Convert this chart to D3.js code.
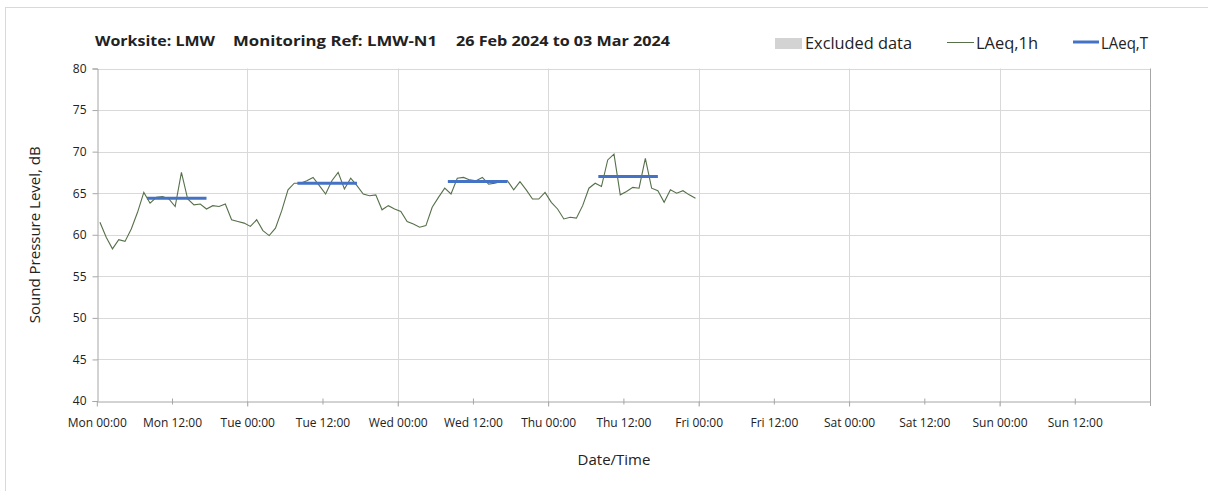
<!DOCTYPE html>
<html>
<head>
<meta charset="utf-8">
<script src="https://cdn.jsdelivr.net/npm/d3@7"></script>
<style>
  body { margin: 0; background: #fff; }
  text { font-family: "Open Sans", "Noto Sans", sans-serif; fill: #222; }
</style>
</head>
<body>
<div id="chart"></div>
<script>
const w = 1208,
h = 491,
m = {top: 68.5, right: 58, bottom: 90, left: 96.8};

// hourly LAeq,1h (dB), one value per hour from Mon 26 Feb 00:00, plotted at mid-hour
const laeq1h = [
  61.5, 59.7, 58.3, 59.4, 59.2, 60.7, 62.7, 65.1, 63.8, 64.5, 64.6, 64.3,
  63.4, 67.5, 64.3, 63.6, 63.7, 63.1, 63.5, 63.4, 63.7, 61.8, 61.6, 61.4,
  61.0, 61.8, 60.5, 59.9, 60.8, 62.9, 65.4, 66.2, 66.2, 66.5, 66.9, 65.9,
  64.9, 66.5, 67.5, 65.5, 66.8, 65.9, 64.9, 64.7, 64.8, 63.0, 63.5, 63.1,
  62.8, 61.6, 61.3, 60.9, 61.1, 63.3, 64.5, 65.6, 64.9, 66.8, 66.9, 66.6,
  66.5, 66.9, 66.1, 66.2, 66.4, 66.5, 65.4, 66.4, 65.4, 64.3, 64.3, 65.1,
  63.9, 63.1, 61.9, 62.1, 62.0, 63.5, 65.6, 66.2, 65.8, 69.0, 69.7, 64.8,
  65.2, 65.7, 65.6, 69.2, 65.6, 65.3, 63.9, 65.4, 65.0, 65.3, 64.8, 64.4
];

// LAeq,T daytime periods
const periodStart = ["2024-02-26T08:00", "2024-02-27T08:00", "2024-02-28T08:00", "2024-02-29T08:00"];
const periodEnd   = ["2024-02-26T17:30", "2024-02-27T17:30", "2024-02-28T17:30", "2024-02-29T17:30"];
const laeqT = [64.4, 66.2, 66.4, 67.0];

const yTicks = [40, 45, 50, 55, 60, 65, 70, 75, 80];

const t0 = new Date("2024-02-26T00:00");
const t1 = new Date("2024-03-04T00:00");

const svg = d3.select("#chart")
    .append("svg")
    .attr("width", w)
    .attr("height", h);

// outer frame
svg.append("rect")
    .attr("x", 5.5).attr("y", 7.5)
    .attr("width", w).attr("height", h)
    .attr("fill", "none")
    .attr("stroke", "#d9d9d9");

let x = d3.scaleTime([t0, t1], [m.left, w - m.right]);
let y = d3.scaleLinear([40, 80], [h - m.bottom, m.top]);

const days = d3.timeDay.range(t0, d3.timeDay.offset(t1, 1));

// gridlines
svg.append("g")
    .selectAll("line")
    .data(yTicks.slice(1))
    .join("line")
    .attr("x1", m.left).attr("x2", w - m.right)
    .attr("y1", d => Math.round(y(d)) + 0.5).attr("y2", d => Math.round(y(d)) + 0.5)
    .attr("stroke", "#d9d9d9");

svg.append("g")
    .selectAll("line")
    .data(days.slice(1))
    .join("line")
    .attr("x1", d => Math.round(x(d)) + 0.5).attr("x2", d => Math.round(x(d)) + 0.5)
    .attr("y1", m.top).attr("y2", h - m.bottom + 5)
    .attr("stroke", d => +d == +t1 ? "#a6a6a6" : "#d9d9d9");

// y axis
const yAxis = svg.append("g")
    .attr("transform", `translate(${Math.round(m.left) + 0.5},0)`)
    .call(d3.axisLeft(y).tickValues(yTicks).tickSize(5).tickPadding(6).tickFormat(d3.format("d")));
yAxis.select(".domain").attr("stroke", "#a6a6a6");
yAxis.selectAll(".tick line").attr("stroke", "#a6a6a6");
yAxis.selectAll("text").style("font-size", "12px").attr("fill", "#333");

// x axis
const xAxis = svg.append("g")
    .attr("transform", `translate(0,${Math.round(h - m.bottom) + 0.5})`)
    .call(d3.axisBottom(x).tickValues(d3.timeHour.every(12).range(t0, t1))
        .tickSize(5).tickSizeOuter(0).tickPadding(12)
        .tickFormat(d3.timeFormat("%a %H:%M")));
xAxis.select(".domain").attr("stroke", "#a6a6a6");
xAxis.selectAll(".tick line").attr("stroke", "#a6a6a6")
    .attr("y1", d => d.getHours() == 12 ? -3 : 0)
    .attr("y2", d => d.getHours() == 12 ? 3 : 5);
xAxis.selectAll("text").style("font-size", "12px").attr("fill", "#333");

// LAeq,1h line
const line = d3.line()
    .x((d, i) => x(d3.timeMinute.offset(t0, i * 60 + 30)))
    .y(d => y(d));

svg.append("path")
    .datum(laeq1h)
    .attr("fill", "none")
    .attr("stroke", "#56704a")
    .attr("stroke-width", 1.1)
    .attr("d", line);

// LAeq,T segments
svg.append("g")
    .selectAll("line")
    .data(laeqT)
    .join("line")
    .attr("x1", (d, i) => x(new Date(periodStart[i])))
    .attr("x2", (d, i) => x(new Date(periodEnd[i])))
    .attr("y1", d => y(d)).attr("y2", d => y(d))
    .attr("stroke", "#4472c4")
    .attr("stroke-width", 3);

// title
const title = svg.append("g").style("font-weight", "bold").style("font-size", "14px");
title.append("text").attr("x", 95).attr("y", 46).text("Worksite: LMW")
    .attr("textLength", 120).attr("lengthAdjust", "spacingAndGlyphs");
title.append("text").attr("x", 233).attr("y", 46).text("Monitoring Ref: LMW-N1")
    .attr("textLength", 204).attr("lengthAdjust", "spacingAndGlyphs");
title.append("text").attr("x", 456).attr("y", 46).text("26 Feb 2024 to 03 Mar 2024")
    .attr("textLength", 214).attr("lengthAdjust", "spacingAndGlyphs");

// legend
svg.append("rect").attr("x", 775).attr("y", 38).attr("width", 27).attr("height", 11).attr("fill", "#d3d3d3");
svg.append("text").attr("x", 805).attr("y", 49).text("Excluded data").style("font-size", "16px")
    .attr("textLength", 107).attr("lengthAdjust", "spacingAndGlyphs");
svg.append("line").attr("x1", 947).attr("x2", 974).attr("y1", 42.5).attr("y2", 42.5)
    .attr("stroke", "#56704a").attr("stroke-width", 1);
svg.append("text").attr("x", 976).attr("y", 49).text("LAeq,1h").style("font-size", "16px")
    .attr("textLength", 62).attr("lengthAdjust", "spacingAndGlyphs");
svg.append("line").attr("x1", 1073).attr("x2", 1099).attr("y1", 42).attr("y2", 42)
    .attr("stroke", "#4472c4").attr("stroke-width", 3);
svg.append("text").attr("x", 1101).attr("y", 49).text("LAeq,T").style("font-size", "16px")
    .attr("textLength", 47).attr("lengthAdjust", "spacingAndGlyphs");

// axis titles
svg.append("text")
    .attr("transform", `translate(40,${(m.top + h - m.bottom) / 2}) rotate(-90)`)
    .attr("text-anchor", "middle")
    .style("font-size", "15px")
    .text("Sound Pressure Level, dB");

svg.append("text")
    .attr("x", 614).attr("y", 465)
    .attr("text-anchor", "middle")
    .style("font-size", "15px")
    .text("Date/Time");
</script>
</body>
</html>
